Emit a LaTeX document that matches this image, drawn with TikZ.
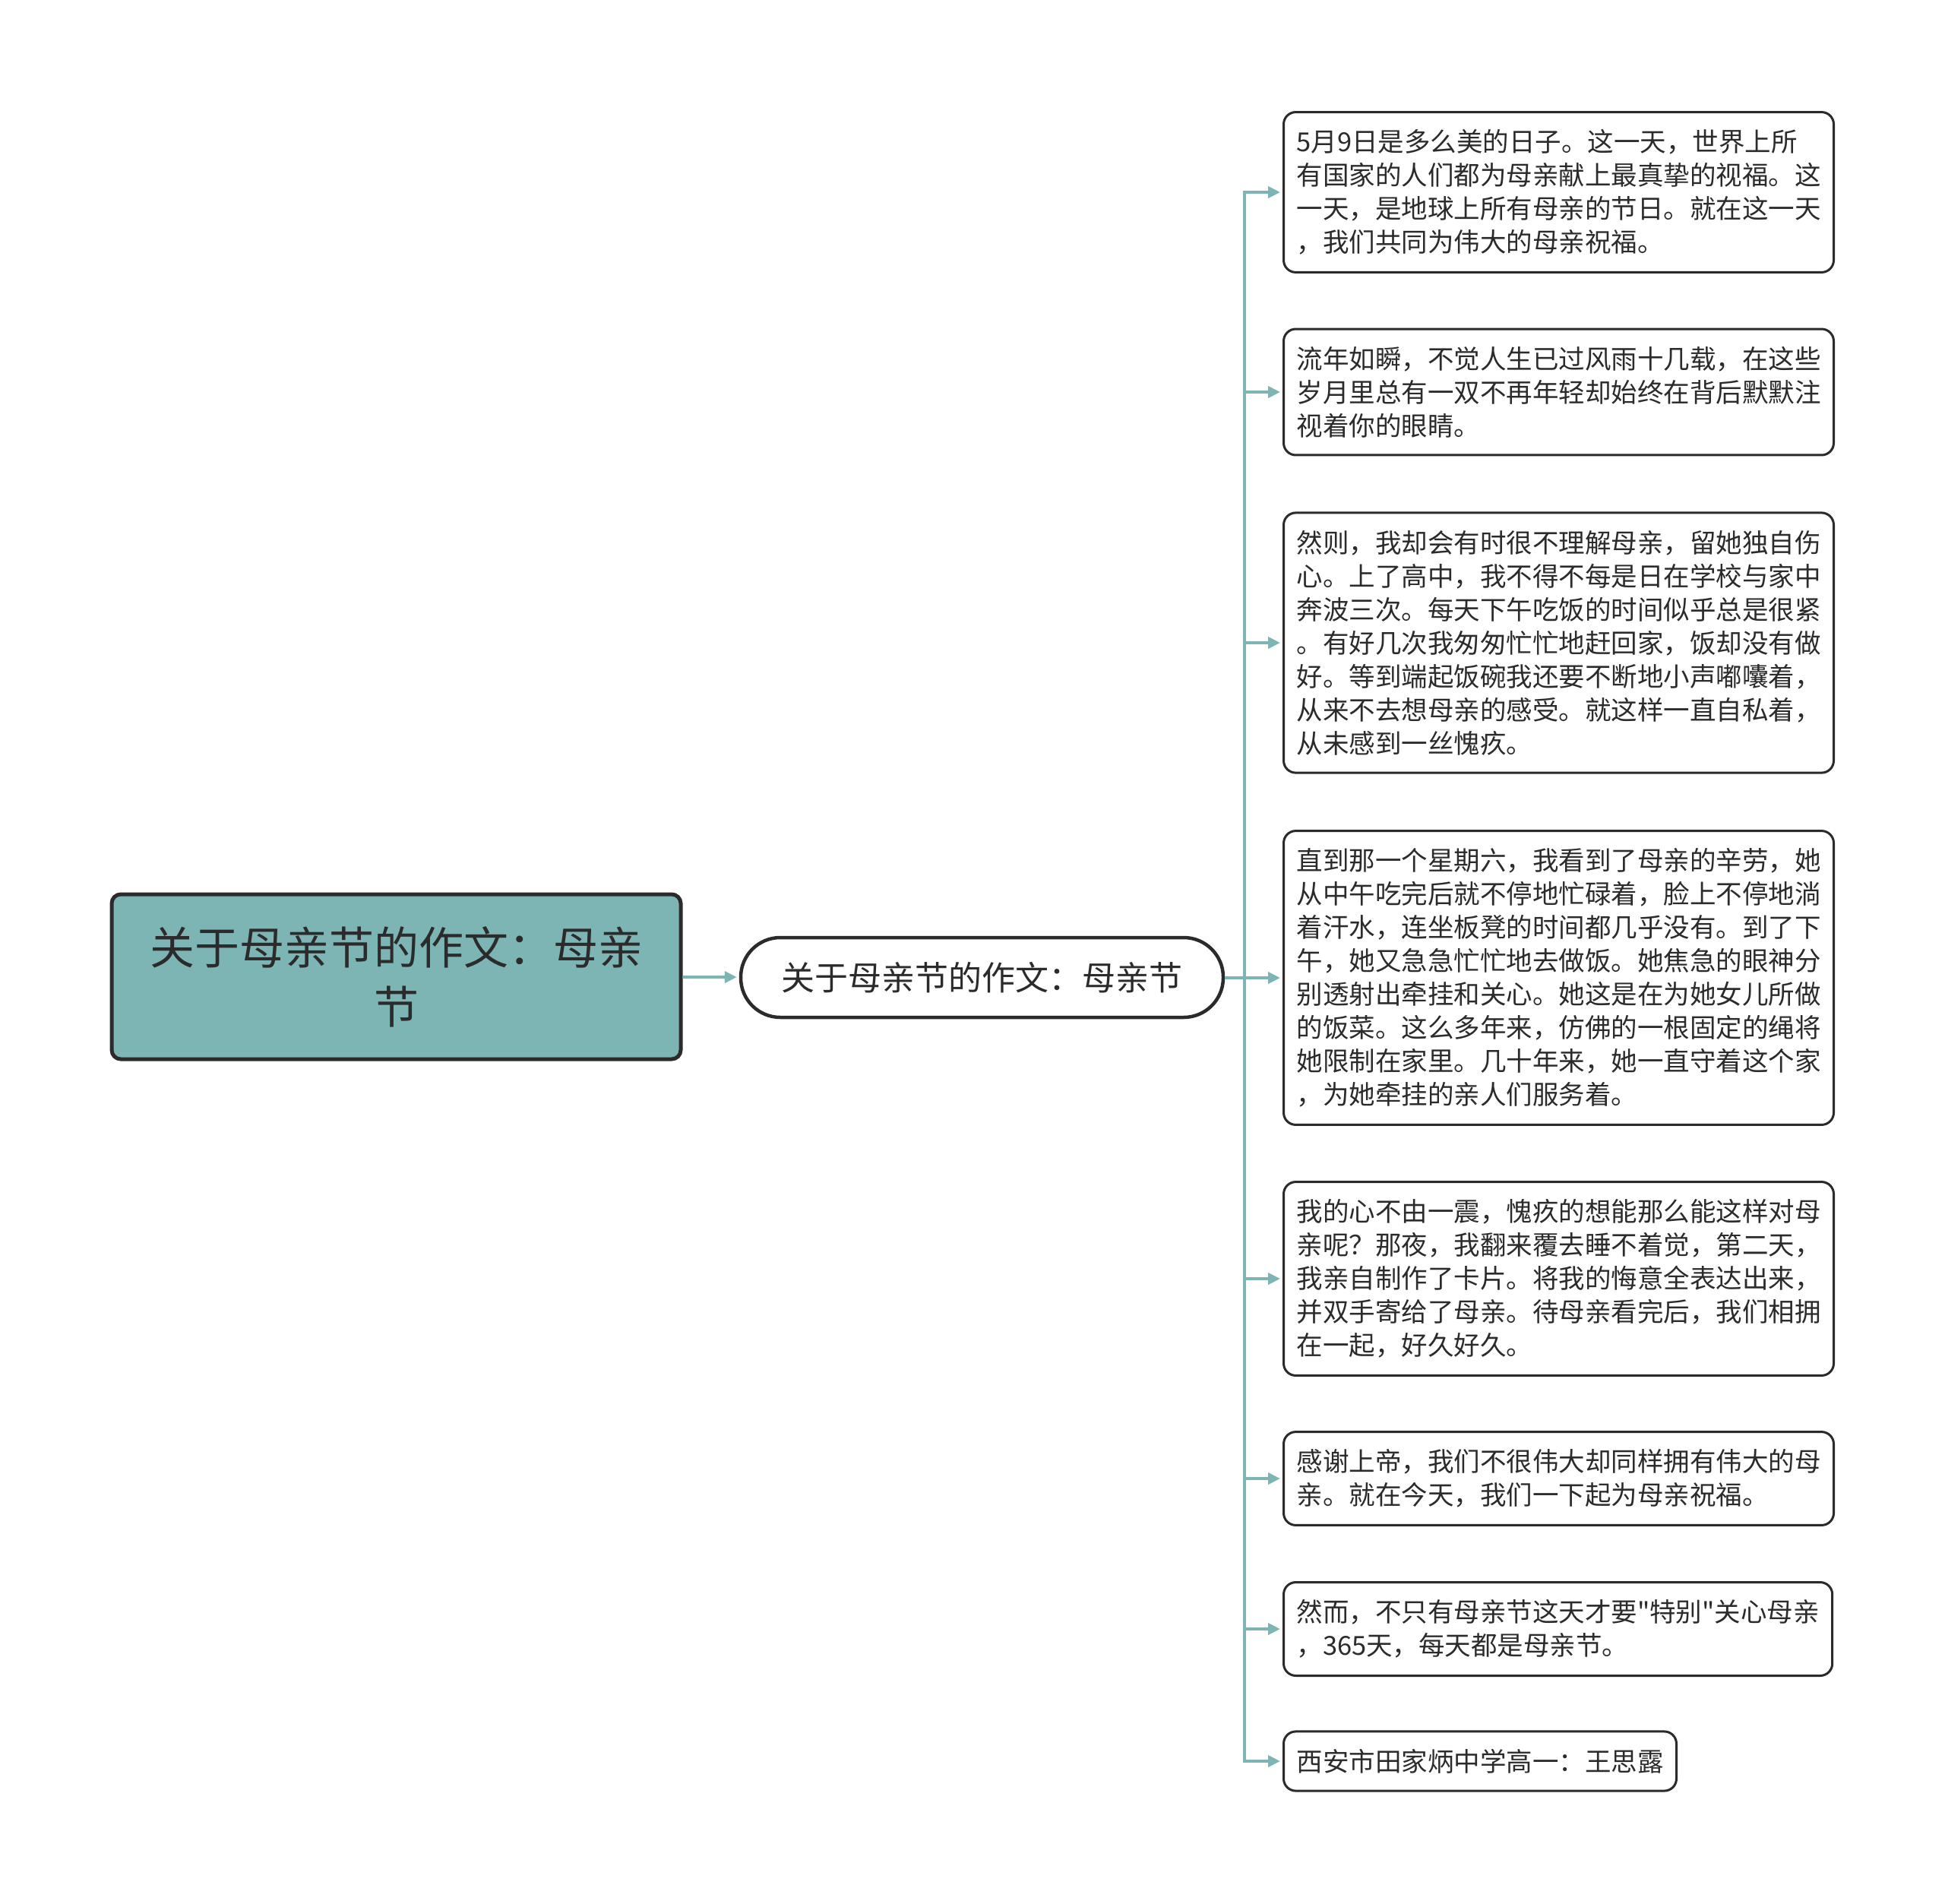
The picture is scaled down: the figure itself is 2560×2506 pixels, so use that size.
\documentclass[tikz,border=0pt]{standalone}
\usepackage{fontspec}
\setmainfont{Noto Sans CJK SC}[Ligatures=TeXOff]
\usetikzlibrary{arrows.meta}
\definecolor{tealc}{HTML}{7DB5B5}
\definecolor{txtc}{HTML}{2B2B2B}
\begin{document}
\begin{tikzpicture}[x=1pt,y=-1pt,
  rootbox/.style={draw=txtc, line width=5pt, rounded corners=12pt, fill=tealc,
    minimum width=749pt, minimum height=217pt, align=center, text=txtc,
    font=\fontsize{59pt}{78pt}\selectfont},
  midbox/.style={draw=txtc, line width=4.5pt, rounded corners=52pt, fill=white,
    minimum width=635pt, minimum height=105pt, text=txtc,
    font=\fontsize{44pt}{52pt}\selectfont},
  leaf/.style={draw=txtc, line width=3pt, rounded corners=16pt, fill=white,
    anchor=west, align=left, inner xsep=17pt, inner ysep=23pt, text=txtc,
    font=\fontsize{34.5pt}{44pt}\selectfont},
  conn/.style={draw=tealc, line width=4pt, shorten >=3pt,
    -{Triangle[length=16pt,width=15pt]}}]
\useasboundingbox (0,0) rectangle (2560,2506);

\node[rootbox] (root) at (521.5,1285.5) {关于母亲节的作文：母亲\\节};
\node[midbox] (mid) at (1292.5,1286.5) {关于母亲节的作文：母亲节};

\node[leaf] (l1) at (1688,253) {5月9日是多么美的日子。这一天，世界上所\\有国家的人们都为母亲献上最真挚的视福。这\\一天，是地球上所有母亲的节日。就在这一天\\，我们共同为伟大的母亲祝福。};
\node[leaf] (l2) at (1688,516) {流年如瞬，不觉人生已过风雨十几载，在这些\\岁月里总有一双不再年轻却始终在背后默默注\\视着你的眼睛。};
\node[leaf] (l3) at (1688,846) {然则，我却会有时很不理解母亲，留她独自伤\\心。上了高中，我不得不每是日在学校与家中\\奔波三次。每天下午吃饭的时间似乎总是很紧\\。有好几次我匆匆忙忙地赶回家，饭却没有做\\好。等到端起饭碗我还要不断地小声嘟囔着，\\从来不去想母亲的感受。就这样一直自私着，\\从未感到一丝愧疚。};
\node[leaf] (l4) at (1688,1287) {直到那一个星期六，我看到了母亲的辛劳，她\\从中午吃完后就不停地忙碌着，脸上不停地淌\\着汗水，连坐板凳的时间都几乎没有。到了下\\午，她又急急忙忙地去做饭。她焦急的眼神分\\别透射出牵挂和关心。她这是在为她女儿所做\\的饭菜。这么多年来，仿佛的一根固定的绳将\\她限制在家里。几十年来，她一直守着这个家\\，为她牵挂的亲人们服务着。};
\node[leaf] (l5) at (1688,1683) {我的心不由一震，愧疚的想能那么能这样对母\\亲呢？那夜，我翻来覆去睡不着觉，第二天，\\我亲自制作了卡片。将我的悔意全表达出来，\\并双手寄给了母亲。待母亲看完后，我们相拥\\在一起，好久好久。};
\node[leaf] (l6) at (1688,1946) {感谢上帝，我们不很伟大却同样拥有伟大的母\\亲。就在今天，我们一下起为母亲祝福。};
\node[leaf] (l7) at (1688,2144) {然而，不只有母亲节这天才要"特别"关心母亲\\，365天，每天都是母亲节。};
\node[leaf] (l8) at (1688,2318) {西安市田家炳中学高一：王思露};

\draw[conn] (root) -- (mid);
\foreach \n in {l1,l2,l3,l4,l5,l6,l7,l8}
  \draw[conn] (mid.east) -- ++(26,0) |- (\n.west);
\end{tikzpicture}
\end{document}
